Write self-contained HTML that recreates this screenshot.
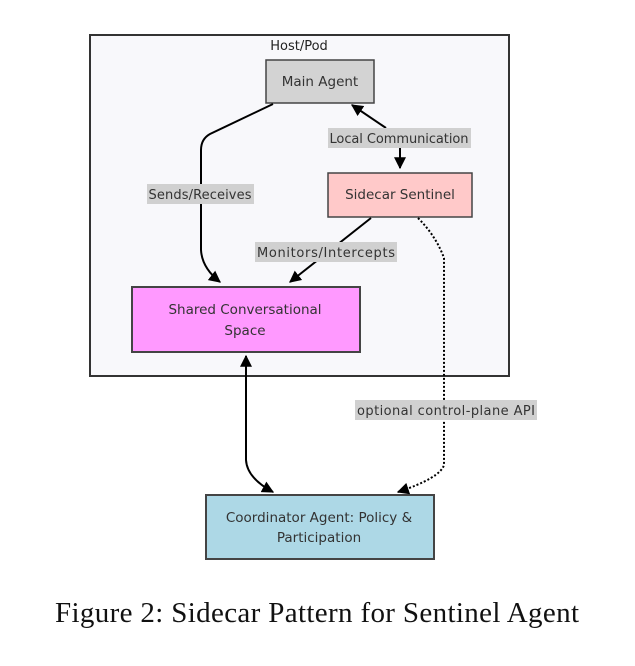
<!DOCTYPE html>
<html><head><style>body{margin:0;background:#fff}</style></head><body>
<svg width="635" height="661" viewBox="0 0 635 661" xmlns="http://www.w3.org/2000/svg">
<defs>
<marker id="a" viewBox="0 0 10 10" refX="9" refY="5" markerWidth="6" markerHeight="6" orient="auto-start-reverse"><path d="M0,0L10,5L0,10z" fill="#000"/></marker>
</defs>
<rect x="90" y="35" width="419" height="341" fill="#f8f8fb" stroke="#333" stroke-width="2"/>
<text x="299" y="50" font-family="DejaVu Sans, sans-serif" font-size="13" text-anchor="middle" fill="#222">Host/Pod</text>
<g font-family="DejaVu Sans, sans-serif" font-size="13.5" fill="#333" text-anchor="middle">
<rect x="266" y="60" width="108" height="43" fill="#d3d3d3" stroke="#444" stroke-width="1.5"/>
<text x="320" y="86">Main Agent</text>
<rect x="328" y="173" width="144" height="44" fill="#ffc9c9" stroke="#444" stroke-width="1.5"/>
<text x="400" y="199">Sidecar Sentinel</text>
<rect x="132" y="287" width="228" height="65" fill="#ff99ff" stroke="#444" stroke-width="2"/>
<text x="245" y="314">Shared Conversational</text>
<text x="245" y="335">Space</text>
<rect x="206" y="495" width="228" height="64" fill="#add8e6" stroke="#444" stroke-width="2"/>
<text x="319" y="522">Coordinator Agent: Policy &amp;</text>
<text x="319" y="542">Participation</text>
</g>
<g fill="none" stroke="#000" stroke-width="2">
<path d="M273,104 L210,134 Q201,139 201,150 L201,250 Q202,268 220,282" marker-end="url(#a)"/>
<path d="M386,128 L352,105" marker-end="url(#a)"/>
<path d="M400,148 L400,168" marker-end="url(#a)"/>
<path d="M371,218 L290,282" marker-end="url(#a)"/>
<path d="M246,356 L246,460 Q247,478 273,492" marker-start="url(#a)" marker-end="url(#a)"/>
<path d="M418,218 Q436,236 444,258 L444,465 Q440,478 398,492" stroke-dasharray="2,2" marker-end="url(#a)"/>
</g>
<g font-family="DejaVu Sans, sans-serif" font-size="13" fill="#333" text-anchor="middle">
<rect x="328" y="128" width="143" height="20" fill="#d0d0d0"/>
<text x="399" y="143" textLength="139">Local Communication</text>
<rect x="147" y="184" width="107" height="20" fill="#d0d0d0"/>
<text x="200" y="199" textLength="103">Sends/Receives</text>
<rect x="255" y="242" width="142" height="20" fill="#d0d0d0"/>
<text x="326" y="257" textLength="138">Monitors/Intercepts</text>
<rect x="355" y="400" width="182" height="20" fill="#d0d0d0"/>
<text x="446" y="415" textLength="178">optional control-plane API</text>
</g>
<text x="317" y="622" font-family="Liberation Serif, serif" font-size="29" text-anchor="middle" fill="#111" textLength="524">Figure 2: Sidecar Pattern for Sentinel Agent</text>
</svg>
</body></html>
